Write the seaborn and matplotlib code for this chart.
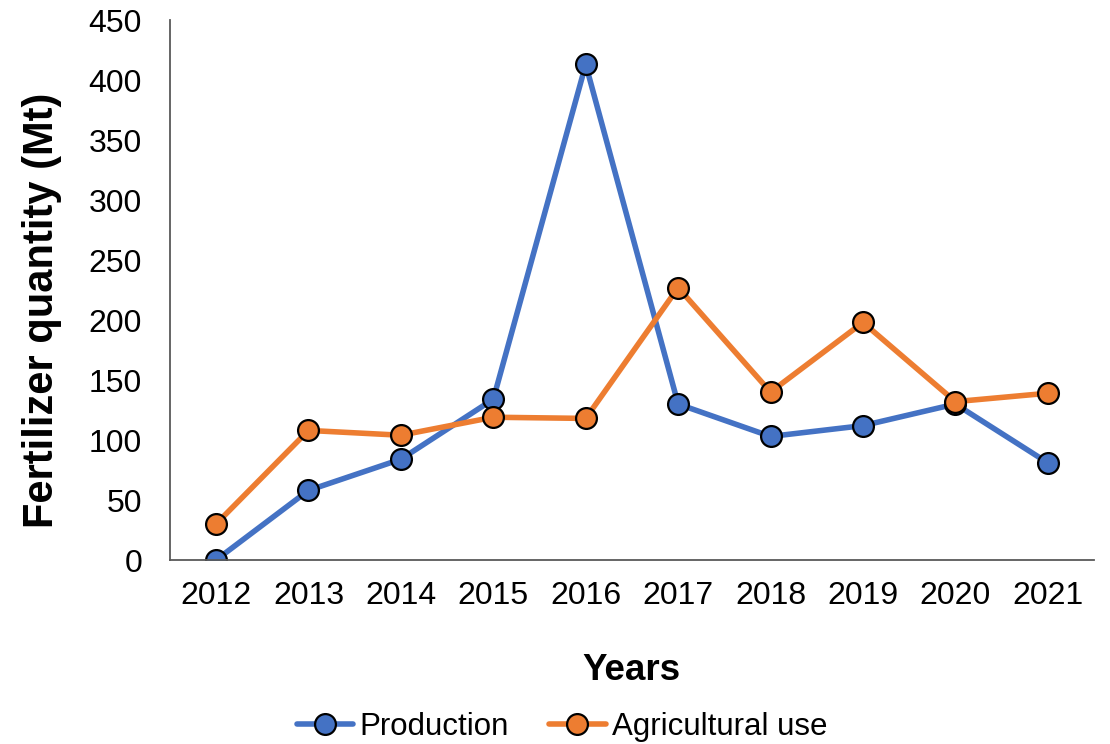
import pandas as pd
import matplotlib.pyplot as plt
import seaborn as sns

years = ['2012', '2013', '2014', '2015', '2016', '2017', '2018', '2019', '2020', '2021']
production = [0, 58, 84, 134, 413, 130, 103, 112, 130, 81]
agricultural_use = [30, 108, 104, 119, 118, 227, 140, 198, 132, 139]

df = pd.DataFrame({
    'year': years * 2,
    'value': production + agricultural_use,
    'series': ['Production'] * len(years) + ['Agricultural use'] * len(years),
})

sns.set_style('white')
plt.rcParams['font.family'] = ['Liberation Sans', 'DejaVu Sans']
plt.rcParams['text.color'] = 'black'
plt.rcParams['xtick.color'] = 'black'
plt.rcParams['ytick.color'] = 'black'

fig = plt.figure(figsize=(11.1, 7.44), dpi=100)
ax = fig.add_axes([0.153, 0.2473, 0.8326, 0.7257])

palette = {'Production': '#4472C4', 'Agricultural use': '#ED7D31'}
sns.lineplot(data=df, x='year', y='value', hue='series', palette=palette,
             marker='o', markersize=15, markeredgecolor='black', markeredgewidth=1.6,
             linewidth=4, ax=ax, legend=True)

ax.set_xlim(-0.5, len(years) - 0.5)
ax.set_ylim(0, 450)
ax.set_yticks(range(0, 451, 50))
ax.tick_params(axis='both', labelsize=23, length=0)
ax.tick_params(axis='y', pad=20)
ax.tick_params(axis='x', pad=15)

for s in ['top', 'right']:
    ax.spines[s].set_visible(False)
for s in ['left', 'bottom']:
    ax.spines[s].set_color('#595959')
    ax.spines[s].set_linewidth(1.3)

ax.set_xlabel('')
ax.set_ylabel('')
fig.text(631 / 1110, 1 - 680 / 744, 'Years', fontsize=26.5, fontweight='bold',
         ha='center', va='baseline')
fig.text(53 / 1110, 1 - 310 / 744, 'Fertilizer quantity (Mt)', fontsize=30,
         fontweight='bold', rotation=90, rotation_mode='anchor',
         ha='center', va='baseline')

handles, labels = ax.get_legend_handles_labels()
ax.get_legend().remove()
fig.legend(handles, labels, loc='center', ncol=2, frameon=False,
           fontsize=22.5, bbox_to_anchor=(562 / 1110, 1 - 727 / 744), borderpad=0,
           handlelength=1.8, handletextpad=0.2, columnspacing=1.3)

fig.savefig('out.png', dpi=100)
